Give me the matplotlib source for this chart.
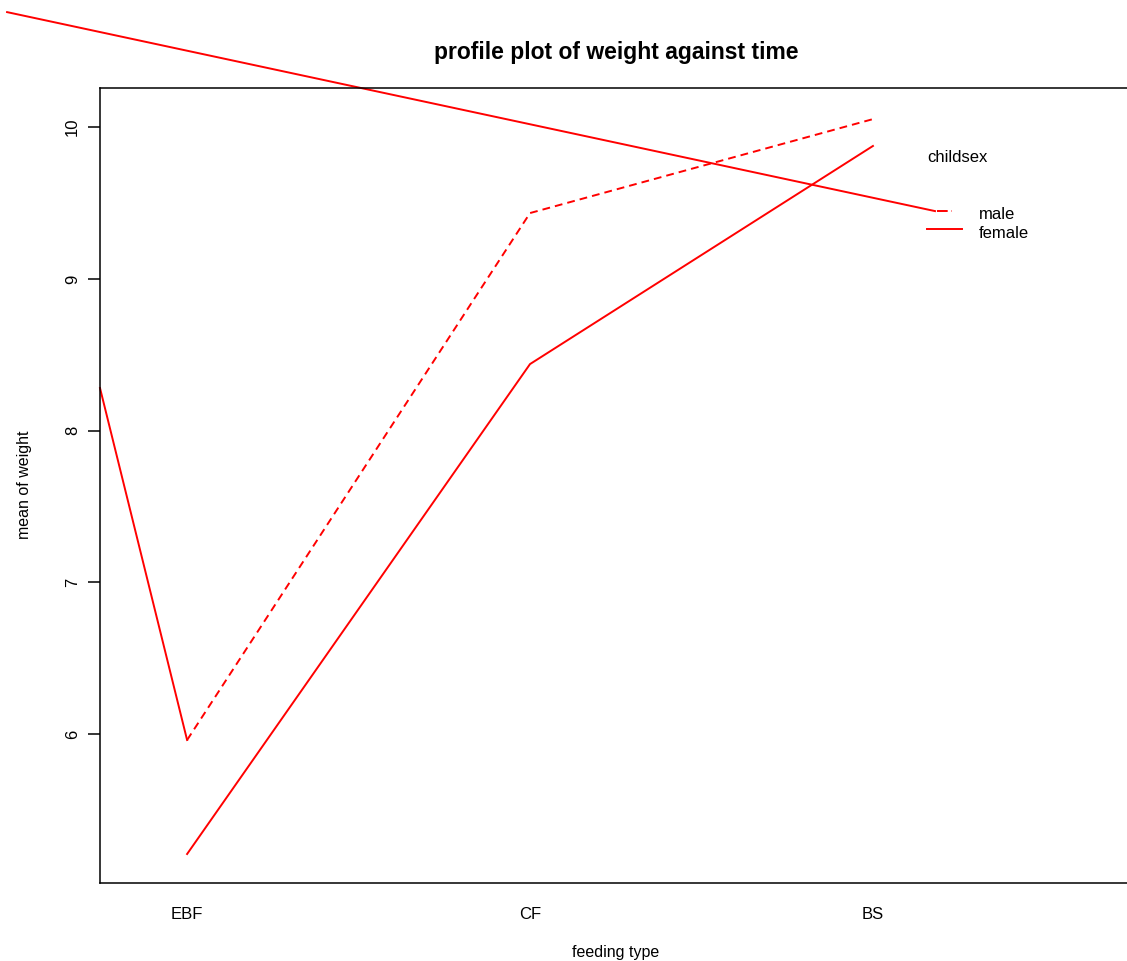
import matplotlib
matplotlib.use("Agg")
import matplotlib.pyplot as plt

plt.rcParams['font.family'] = ['Liberation Sans', 'DejaVu Sans']

# ---- data ----
feeding_types = ["EBF", "CF", "BS"]
male_weight = [5.962, 9.434, 10.053]
female_weight = [5.211, 8.439, 9.876]
sex_levels = ["male", "female"]
legend_title = "childsex"
y_ticks = [6, 7, 8, 9, 10]

# stray artefact strokes visible in the reference (data units)
stray_top_x = [0.475, 3.181]
stray_top_y = [10.758, 9.447]
stray_left_y0 = 8.281

W, H = 1127, 961
fig = plt.figure(figsize=(W / 100, H / 100), dpi=100)

left_px, right_px, top_px, bottom_px = 100, 1150, 88, 883
ax = fig.add_axes([left_px / W, 1 - bottom_px / H,
                   (right_px - left_px) / W, (bottom_px - top_px) / H])

x = [1, 2, 3]
red = "#ff0000"
LW = 1.4
dash = (0, (4.0, 2.6))
ax.plot(x, male_weight, color=red, lw=LW, linestyle=dash)
ax.plot(x, female_weight, color=red, lw=LW, linestyle="-")

xlim = (0.746, 3.808)
ylim = (5.020, 10.258)
ax.set_xlim(*xlim)
ax.set_ylim(*ylim)

# artefact strokes
ax.plot([xlim[0], x[0]], [stray_left_y0, male_weight[0]], color=red, lw=LW, clip_on=False)
ax.plot(stray_top_x, stray_top_y, color=red, lw=LW, clip_on=False)

# legend (R interaction.plot style)
lx0 = 3.157
lxt = 3.309
ax.text(lx0, 9.803, legend_title, fontsize=12, va="center", ha="left")
ax.plot([3.187, 3.230], [9.447, 9.447], color=red, lw=LW, linestyle=(0, (5.5, 2)))
ax.plot([lx0, 3.259], [9.328, 9.328], color=red, lw=LW)
ax.text(lxt, 9.427, sex_levels[0], fontsize=12, va="center", ha="left")
ax.text(lxt, 9.302, sex_levels[1], fontsize=12, va="center", ha="left")

# axes styling
ax.spines['right'].set_visible(False)
for s in ['left', 'top', 'bottom']:
    ax.spines[s].set_linewidth(1.1)
    ax.spines[s].set_color('black')

ax.set_xticks(x)
ax.set_xticklabels(feeding_types, fontsize=12)
ax.tick_params(axis='x', length=0, pad=17)
ax.set_yticks(y_ticks)
ax.set_yticklabels([str(v) for v in y_ticks], fontsize=12, rotation=90, va='center')
ax.tick_params(axis='y', length=8.5, width=1.1, pad=6)

fig.text(616 / W, 1 - 952 / H, "feeding type", fontsize=11.5, ha="center", va="center")
fig.text(25 / W, 1 - 485 / H, "mean of weight", fontsize=11.5, ha="center", va="center",
         rotation=90)

fig.text(616 / W, 1 - 53 / H, "profile plot of weight against time",
         fontsize=16.5, fontweight="bold", ha="center", va="center")

fig.savefig("out.png", dpi=100)
